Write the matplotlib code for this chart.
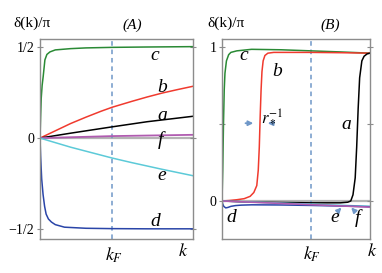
import matplotlib
matplotlib.use("Agg")
import matplotlib.pyplot as plt

plt.rcParams["font.family"] = ["Liberation Serif", "DejaVu Serif"]
plt.rcParams["mathtext.fontset"] = "stix"

# Panel A curves (x in units of the k range, y = delta/pi)
a_c_x = [0, 0.004, 0.008, 0.014, 0.021, 0.032, 0.045, 0.065, 0.1, 0.2, 0.3, 0.47, 0.7, 1.0]
a_c_y = [0, 0.12, 0.22, 0.29, 0.34, 0.43, 0.46, 0.474, 0.485, 0.492, 0.496, 0.499, 0.501, 0.503]
a_b_x = [0, 0.1, 0.2, 0.3, 0.4, 0.473, 0.6, 0.7, 0.8, 0.9, 1.0]
a_b_y = [0, 0.04, 0.08, 0.115, 0.148, 0.17, 0.202, 0.226, 0.248, 0.267, 0.285]
a_a_x = [0, 0.2, 0.473, 0.7, 1.0]
a_a_y = [0, 0.027, 0.062, 0.09, 0.12]
a_f_x = [0, 0.473, 1.0]
a_f_y = [0, 0.011, 0.018]
a_e_x = [0, 0.1, 0.2, 0.3, 0.473, 0.6, 0.8, 1.0]
a_e_y = [0, -0.025, -0.05, -0.072, -0.11, -0.135, -0.172, -0.207]
a_d_x = [0, 0.004, 0.011, 0.02, 0.03, 0.04, 0.055, 0.075, 0.1, 0.16, 0.3, 0.473, 0.7, 1.0]
a_d_y = [0, -0.1, -0.225, -0.31, -0.375, -0.418, -0.445, -0.462, -0.476, -0.49, -0.496, -0.498, -0.499, -0.499]
kf_a = 0.473

# Panel B curves
b_c_x = [0, 0.005, 0.01, 0.015, 0.02, 0.03, 0.045, 0.06, 0.1, 0.2, 0.4, 0.6, 0.8, 1.0]
b_c_y = [0, 0.2, 0.5, 0.72, 0.83, 0.91, 0.95, 0.965, 0.975, 0.985, 0.982, 0.975, 0.968, 0.96]
b_b_x = [0, 0.05, 0.1, 0.15, 0.19, 0.215, 0.235, 0.245, 0.252, 0.258, 0.264, 0.27, 0.278, 0.29, 0.31, 0.35, 0.4, 0.6, 0.8, 1.0]
b_b_y = [0, 0.003, 0.008, 0.015, 0.03, 0.055, 0.1, 0.2, 0.35, 0.55, 0.72, 0.84, 0.91, 0.945, 0.96, 0.965, 0.965, 0.965, 0.963, 0.96]
b_a_x = [0, 0.2, 0.4, 0.6, 0.8, 0.85, 0.87, 0.885, 0.9, 0.91, 0.92, 0.93, 0.945, 0.96, 0.98, 1.0]
b_a_y = [0, -0.008, -0.01, -0.012, -0.012, -0.008, 0.0, 0.04, 0.15, 0.35, 0.6, 0.8, 0.91, 0.94, 0.955, 0.96]
b_d_x = [0, 0.005, 0.012, 0.025, 0.04, 0.06, 0.09, 0.13, 0.2, 0.4, 0.6, 0.8, 1.0]
b_d_y = [0, -0.02, -0.035, -0.045, -0.042, -0.035, -0.03, -0.027, -0.025, -0.026, -0.029, -0.033, -0.037]
b_e_x = [0, 0.5, 1.0]
b_e_y = [0, -0.017, -0.035]
b_f_x = [0, 0.5, 1.0]
b_f_y = [0, -0.02, -0.04]
kf_b = 0.60

green = "#2a8a35"
red = "#f03a2e"
blue = "#2a45a8"
cyan = "#5ccad8"
magenta = "#b05cb0"
dash = "#6f97c8"
grey = "#8c8c8c"

W, H = 382, 273
fig = plt.figure(figsize=(W / 100, H / 100), dpi=100)


def px(x, y):
    return x / W, 1 - y / H


axA = fig.add_axes([40 / W, 1 - 239 / H, 153 / W, 200 / H])
axB = fig.add_axes([222 / W, 1 - 239 / H, 148 / W, 200 / H])

for ax in (axA, axB):
    for s in ax.spines.values():
        s.set_color(grey)
        s.set_linewidth(1.0)
    ax.set_xlim(0, 1)
    ax.set_xticks([])
    ax.tick_params(axis="y", direction="inout", length=4, color=grey,
                   labelsize=10, pad=2, right=True)
    ax.axhline(0, color="#b4b4b4", lw=1.6, zorder=1)

# Panel A
axA.set_ylim(-0.555, 0.545)
axA.set_yticks([-0.5, 0, 0.5])
axA.set_yticklabels(["\u22121/2", "0", "1/2"])
axA.axvline(kf_a, color=dash, ls=(0, (3, 2.5)), lw=1.1, zorder=1)
axA.plot(a_c_x, a_c_y, color=green, lw=1.1)
axA.plot(a_b_x, a_b_y, color=red, lw=1.1)
axA.plot(a_a_x, a_a_y, color="black", lw=1.1)
axA.plot(a_f_x, a_f_y, color=magenta, lw=1.3)
axA.plot(a_e_x, a_e_y, color=cyan, lw=1.1)
axA.plot(a_d_x, a_d_y, color=blue, lw=1.1)

# Panel B
axB.set_ylim(-0.247, 1.052)
axB.set_yticks([0, 0.5, 1])
axB.set_yticklabels(["0", "", "1"])
axB.axvline(kf_b, color=dash, ls=(0, (3, 2.5)), lw=1.1, zorder=1)
axB.plot(b_c_x, b_c_y, color=green, lw=1.1)
axB.plot(b_b_x, b_b_y, color=red, lw=1.1)
axB.plot(b_a_x, b_a_y, color="black", lw=1.1)
axB.plot(b_e_x, b_e_y, color=cyan, lw=1.1)
axB.plot(b_d_x, b_d_y, color=blue, lw=1.1)
axB.plot(b_f_x, b_f_y, color=magenta, lw=1.2)

# arrows for r_*^-1 and e, f
arr = dict(arrowstyle="-|>", color=dash, lw=1.3, mutation_scale=7)
axB.annotate("", xy=(0.23, 0.505), xytext=(0.14, 0.505), arrowprops=arr)
axB.annotate("", xy=(0.29, 0.505), xytext=(0.37, 0.505), arrowprops=arr)
axB.annotate("", xy=(0.82, -0.03), xytext=(0.78, -0.07), arrowprops=arr)
axB.annotate("", xy=(0.86, -0.03), xytext=(0.9, -0.07), arrowprops=arr)

# curve labels
lab = dict(fontsize=14, style="italic", ha="center", va="center")
for s, (x, y) in [("c", (155, 55)), ("b", (162, 88)), ("a", (162, 115)),
                  ("f", (160, 140)), ("e", (162, 176)), ("d", (155, 221)),
                  ("c", (244, 56)), ("b", (277, 72)), ("a", (346, 125)),
                  ("d", (231, 217)), ("e", (335, 217)), ("f", (357, 218))]:
    fig.text(*px(x, y), s, **lab)

fig.text(*px(32, 23), "\u03b4(k)/\u03c0", fontsize=11, ha="center", va="center")
fig.text(*px(226, 23), "\u03b4(k)/\u03c0", fontsize=11, ha="center", va="center")
fig.text(*px(132, 25), "(A)", fontsize=11, style="italic", ha="center", va="center")
fig.text(*px(330, 25), "(B)", fontsize=11, style="italic", ha="center", va="center")
fig.text(*px(114, 255), r"$k_F$", fontsize=13, ha="center", va="center")
fig.text(*px(183, 252), r"$k$", fontsize=13, ha="center", va="center")
fig.text(*px(312, 254), r"$k_F$", fontsize=13, ha="center", va="center")
fig.text(*px(372, 252), r"$k$", fontsize=13, ha="center", va="center")
fig.text(*px(272, 116), r"$r_*^{-1}$", fontsize=12, ha="center", va="center")

fig.savefig("out.png", dpi=100)
